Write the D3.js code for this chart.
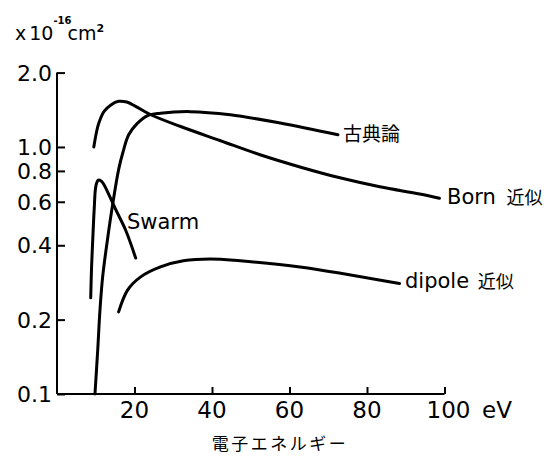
<!DOCTYPE html>
<html><head><meta charset="utf-8">
<script src="https://cdn.jsdelivr.net/npm/d3@7"></script>
<style>
body{margin:0;background:#fff;}
text{fill:#000;}
</style>
</head><body>
<svg id="c" width="547" height="456"></svg>
<script>
// Data (electron energy eV, cross section x1e-16 cm^2)
const bornE   = [9.5,10.2,10.8,12.1,13.9,15.9,18.0,20.3,24.2,31.9,42.2,52.4,62.7,73.0,83.3,93.6,98.7];
const bornS   = [1.0,1.15,1.25,1.39,1.48,1.53,1.52,1.46,1.35,1.21,1.06,0.93,0.83,0.75,0.69,0.645,0.62];
const classE  = [9.8,10.5,11.1,11.8,13.1,14.4,15.9,17.0,18.5,20.6,23.4,26.7,34.4,44.7,57.6,72.5];
const classS  = [0.10,0.15,0.22,0.30,0.43,0.59,0.81,0.95,1.12,1.24,1.34,1.37,1.39,1.35,1.25,1.12];
const swarmE  = [8.7,8.9,9.25,9.6,10.0,10.5,10.9,11.5,12.1,15.2,17.7,20.3];
const swarmS  = [0.245,0.32,0.43,0.56,0.69,0.73,0.735,0.725,0.705,0.556,0.461,0.355];
const dipoleE = [15.9,18.25,21.6,26.7,32.6,39.6,47.3,62.7,88.4];
const dipoleS = [0.215,0.264,0.298,0.327,0.346,0.352,0.346,0.327,0.28];
const xTicks = [20,40,60,80,100];
const xTickLabels = ["20","40","60","80","100"];
const yTicks = [0.1,0.2,0.4,0.6,0.8,1.0,2.0];
const yTickLabels = ["0.1","0.2","0.4","0.6","0.8","1.0","2.0"];

const svg = d3.select("#c");
const x = d3.scaleLinear().domain([0,100]).range([57,444.5]);
const y = d3.scaleLog().domain([0.1,2.0]).range([394,72.6]);

const num = "'DejaVu Sans', sans-serif";
const cjk = "'Noto Sans CJK JP', sans-serif";

// axes
const xAxis = d3.axisBottom(x).tickValues(xTicks).tickSizeInner(-7).tickSizeOuter(0).tickFormat("");
const gx = svg.append("g").attr("transform","translate(0,394)").call(xAxis);
gx.select(".domain").attr("stroke","#000").attr("stroke-width",2).attr("d",`M${x(0)},0H${x(100)}`);
gx.selectAll(".tick line").attr("stroke","#000").attr("stroke-width",2);

const yAxis = d3.axisLeft(y).tickValues(yTicks).tickSizeInner(-8).tickSizeOuter(0).tickFormat("");
const gy = svg.append("g").attr("transform",`translate(${x(0)},0)`).call(yAxis);
gy.select(".domain").attr("stroke","#000").attr("stroke-width",2).attr("d",`M0,${y(0.1)}V${y(2.0)}`);
gy.selectAll(".tick line").attr("stroke","#000").attr("stroke-width",2);

// tick labels
svg.append("g").selectAll("text").data(xTicks).join("text")
  .attr("x",d=>x(d)+(d===100?4:0)).attr("y",418)
  .attr("text-anchor","middle").attr("font-family",num).attr("font-size",23)
  .text((d,i)=>xTickLabels[i]);
svg.append("text").attr("x",482).attr("y",418).attr("font-family",num).attr("font-size",23).text("eV");

svg.append("g").selectAll("text").data(yTicks).join("text")
  .attr("x",52).attr("y",d=>y(d)).attr("dy","0.36em")
  .attr("text-anchor","end").attr("font-family",num).attr("font-size",22)
  .text((d,i)=>yTickLabels[i]);

// unit label
const u = svg.append("text").attr("x",15).attr("y",40).attr("font-family",num).attr("font-size",19);
u.append("tspan").text("x");
u.append("tspan").attr("dx",3).text("10");
u.append("tspan").attr("font-size",10).attr("dy",-16).attr("font-weight","bold").text("-16");
u.append("tspan").attr("dy",16).attr("dx",-4).text("cm");
u.append("tspan").attr("font-size",11).attr("dy",-8).attr("font-weight","bold").text("2");

// curves
const line = d3.line().x(d=>x(d[0])).y(d=>y(d[1])).curve(d3.curveCatmullRom.alpha(0.5));
const series = [[bornE,bornS],[classE,classS],[swarmE,swarmS],[dipoleE,dipoleS]];
svg.append("g").selectAll("path").data(series).join("path")
  .attr("d",s=>line(s[0].map((e,i)=>[e,s[1][i]])))
  .attr("fill","none").attr("stroke","#000").attr("stroke-width",3)
  .attr("stroke-linecap","round").attr("stroke-linejoin","round");

// labels
svg.append("text").attr("x",343).attr("y",141).attr("font-family",cjk).attr("font-size",19).text("古典論");
const b = svg.append("text").attr("x",447).attr("y",204).attr("font-family",num).attr("font-size",21);
b.append("tspan").text("Born ");
b.append("tspan").attr("dx",4).attr("font-family",cjk).attr("font-size",18).text("近似");
svg.append("text").attr("x",127).attr("y",229).attr("font-family",num).attr("font-size",21).text("Swarm");
const dp = svg.append("text").attr("x",405).attr("y",288).attr("font-family",num).attr("font-size",21);
dp.append("tspan").text("dipole ");
dp.append("tspan").attr("dx",2).attr("font-family",cjk).attr("font-size",18).text("近似");

svg.append("text").attr("x",280).attr("y",450).attr("text-anchor","middle")
  .attr("font-family",cjk).attr("font-size",17).attr("letter-spacing",2.5).text("電子エネルギー");
</script>
</body></html>
